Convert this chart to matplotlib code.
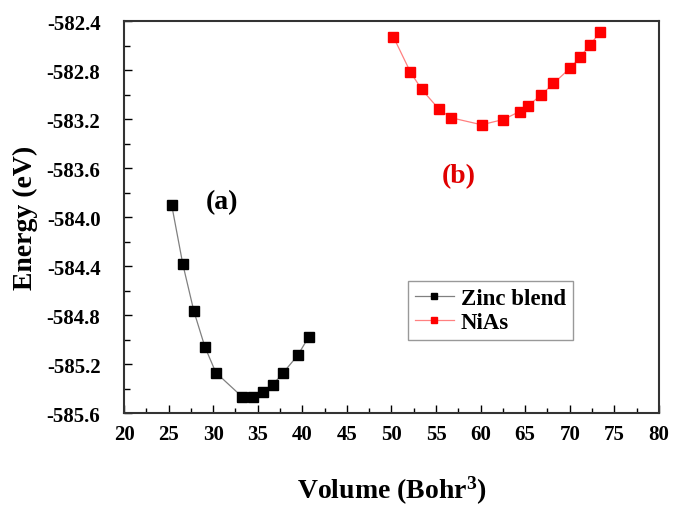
import matplotlib
matplotlib.use("Agg")
import matplotlib.pyplot as plt
from matplotlib.ticker import MultipleLocator, FormatStrFormatter

plt.rcParams['font.family'] = ['Liberation Serif', 'DejaVu Serif']
plt.rcParams['font.weight'] = 'bold'
plt.rcParams['mathtext.fontset'] = 'custom'
plt.rcParams['mathtext.rm'] = 'Liberation Serif:bold'
plt.rcParams['mathtext.bf'] = 'Liberation Serif:bold'
plt.rcParams['mathtext.it'] = 'Liberation Serif:bold:italic'

# Zinc blend data
zb_volume = [25.34, 26.6, 27.84, 29.07, 30.3, 33.28, 34.44, 35.56, 36.68, 37.87, 39.48, 40.71]
zb_energy = [-583.90, -584.387, -584.77, -585.06, -585.27, -585.47, -585.47, -585.43,
             -585.37, -585.27, -585.13, -584.98]

# NiAs data
nias_volume = [50.2, 52.13, 53.4, 55.36, 56.71, 60.11, 62.55, 64.38, 65.36, 66.74,
               68.17, 70.08, 71.2, 72.28, 73.45]
nias_energy = [-582.527, -582.817, -582.959, -583.122, -583.19, -583.247, -583.204,
               -583.139, -583.09, -583.008, -582.910, -582.782, -582.69, -582.595, -582.486]

fig = plt.figure(figsize=(6.73, 5.06), dpi=100)
ax = fig.add_axes([0.1843, 0.1818, 0.7947, 0.7747])

ax.plot(zb_volume, zb_energy, color='#808080', lw=0.9, marker='s', ms=6.5,
        mfc='black', mec='black', label='Zinc blend')
ax.plot(nias_volume, nias_energy, color='#ff8080', lw=0.9, marker='s', ms=6.5,
        mfc='red', mec='red', label='NiAs')

ax.set_xlim(20, 80)
ax.set_ylim(-585.6, -582.4)
ax.xaxis.set_major_locator(MultipleLocator(5))
ax.xaxis.set_minor_locator(MultipleLocator(2.5))
ax.yaxis.set_major_locator(MultipleLocator(0.4))
ax.yaxis.set_minor_locator(MultipleLocator(0.2))
ax.yaxis.set_major_formatter(FormatStrFormatter('%.1f'))
ax.xaxis.set_major_formatter(FormatStrFormatter('%d'))

ax.tick_params(which='both', direction='in', top=False, right=False, labelsize=15)
ax.tick_params(axis='x', which='major', length=6, width=1, pad=8)
ax.tick_params(axis='x', which='minor', length=3.5, width=1)
ax.tick_params(axis='y', which='major', length=6, width=1, pad=17)
ax.tick_params(axis='y', which='minor', length=4, width=1)
for lab in ax.get_xticklabels() + ax.get_yticklabels():
    lab.set_fontweight('bold')

for sp in ax.spines.values():
    sp.set_linewidth(1.5)
    sp.set_color('#333333')

ax.set_xlabel(r'Volume $\mathit{(}$Bohr$^{3}$)', fontsize=20, fontweight='bold', labelpad=21)
ax.set_ylabel('Energy (eV)', fontsize=20, fontweight='bold', labelpad=6)

ax.text(31.0, -583.875, '(a)', fontsize=20, fontweight='bold', color='black',
        ha='center', va='center')
ax.text(57.57, -583.663, '(b)', fontsize=20, fontweight='bold', color='#e00000',
        ha='center', va='center')

leg = ax.legend(loc='upper left', bbox_to_anchor=(0.531, 0.337), borderaxespad=0,
                frameon=True, fancybox=False, handlelength=1.7, handletextpad=0.3,
                borderpad=0.3, labelspacing=0.15, markerscale=0.75,
                prop={'weight': 'bold', 'size': 16.5})
leg.get_frame().set_edgecolor('#808080')
leg.get_frame().set_linewidth(1.0)

fig.savefig('out.png', dpi=100)
